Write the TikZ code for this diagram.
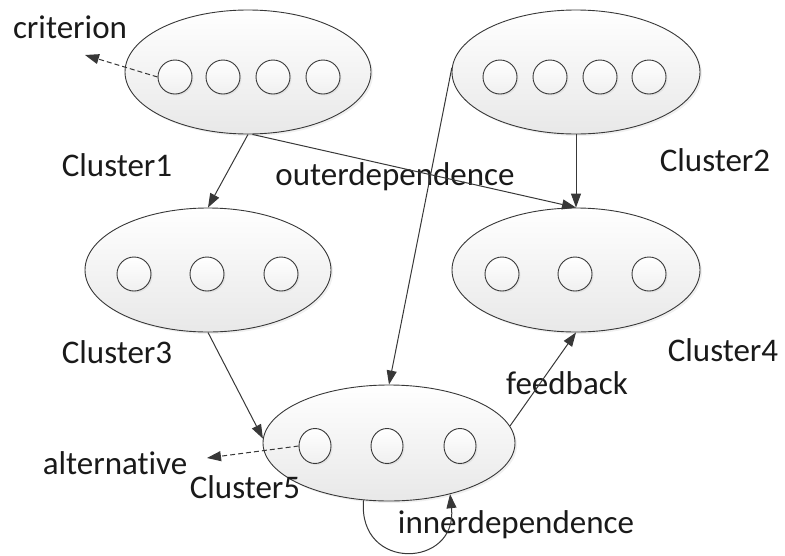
\documentclass[tikz,border=0pt]{standalone}
\usepackage{fontspec}
\setmainfont[Ligatures={NoCommon}]{Carlito}
\usetikzlibrary{shapes.geometric,arrows.meta,shadows}
\definecolor{linec}{HTML}{383838}
\definecolor{textc}{HTML}{1A1A1A}
\tikzset{
  cluster/.style={ellipse, draw=linec, line width=0.9pt, inner sep=0pt,
    top color=white, bottom color=black!9,
    drop shadow={opacity=0.12, shadow xshift=2pt, shadow yshift=-2pt}},
  elem/.style={circle, draw=linec, line width=0.9pt, inner sep=0pt, minimum size=34pt,
    top color=white, bottom color=black!6,
    drop shadow={opacity=0.12, shadow xshift=1.5pt, shadow yshift=-1.5pt}},
  lbl/.style={text=textc, font=\fontsize{33}{36}\selectfont, inner sep=0pt},
  conn/.style={draw=linec, line width=1pt, -{Triangle[length=14pt,width=10pt]}},
  dconn/.style={conn, dashed, dash pattern=on 5pt off 3pt},
}
\begin{document}
\begin{tikzpicture}[x=1pt,y=-1pt]
\useasboundingbox (0,0) rectangle (785,555);
% clusters
\node[cluster, minimum width=246pt, minimum height=124pt] (C1) at (248,72) {};
\node[cluster, minimum width=248pt, minimum height=124pt] (C2) at (576,72) {};
\node[cluster, minimum width=246pt, minimum height=124pt] (C3) at (208,270) {};
\node[cluster, minimum width=248pt, minimum height=124pt] (C4) at (576,270) {};
\node[cluster, minimum width=252pt, minimum height=116pt] (C5) at (389,443) {};
% elements
\node[elem] (c11) at (175,77) {};
\node[elem] (c12) at (223,77) {};
\node[elem] (c13) at (273,77) {};
\node[elem] (c14) at (323,77) {};
\node[elem] (c21) at (500,77) {};
\node[elem] (c22) at (550,77) {};
\node[elem] (c23) at (600,77) {};
\node[elem] (c24) at (649,77) {};
\node[elem] (c31) at (134,274) {};
\node[elem] (c32) at (207,274) {};
\node[elem] (c33) at (281,274) {};
\node[elem] (c41) at (502,274) {};
\node[elem] (c42) at (575,274) {};
\node[elem] (c43) at (649,274) {};
\node[elem, minimum width=32pt, minimum height=35pt, ellipse] (c51) at (315,446) {};
\node[elem, minimum width=32pt, minimum height=35pt, ellipse] (c52) at (387,446) {};
\node[elem, minimum width=32pt, minimum height=35pt, ellipse] (c53) at (460,446) {};
% free ends
\coordinate (crit) at (85,55);
\coordinate (alt) at (207,458);
% labels
\node[lbl] (Lcrit) at (70,27) {criterion};
\node[lbl] (L1) at (117,165) {Cluster1};
\node[lbl] (Lout) at (395,177) {outerdependence};
\node[lbl] (L2) at (715,160) {Cluster2};
\node[lbl] (L3) at (117,352) {Cluster3};
\node[lbl] (L4) at (723,350) {Cluster4};
\node[lbl] (Lfb) at (567,383) {feedback};
\node[lbl] (Lalt) at (115,463) {alternative};
\node[lbl] (L5) at (245,487) {Cluster5};
\node[lbl] (Lin) at (516,525) {innerdependence};
% connectors
\draw[dconn] (c11.west) -- (crit);
\draw[dconn] (c51.west) -- (alt);
\draw[conn] (C1.south) -- (C3.north);
\draw[conn] (C1.-86) -- (C4.north);
\draw[conn] (C2.south) -- (C4.north);
\draw[conn] (C2.178) -- (C5.north);
\draw[conn] (C3.south) -- (C5.178);
\draw[conn] (C5.8) -- (C4.south);
\draw[conn] (C5.-114) .. controls +(-6,72) and +(8,74) .. (C5.-40);
\end{tikzpicture}
\end{document}
